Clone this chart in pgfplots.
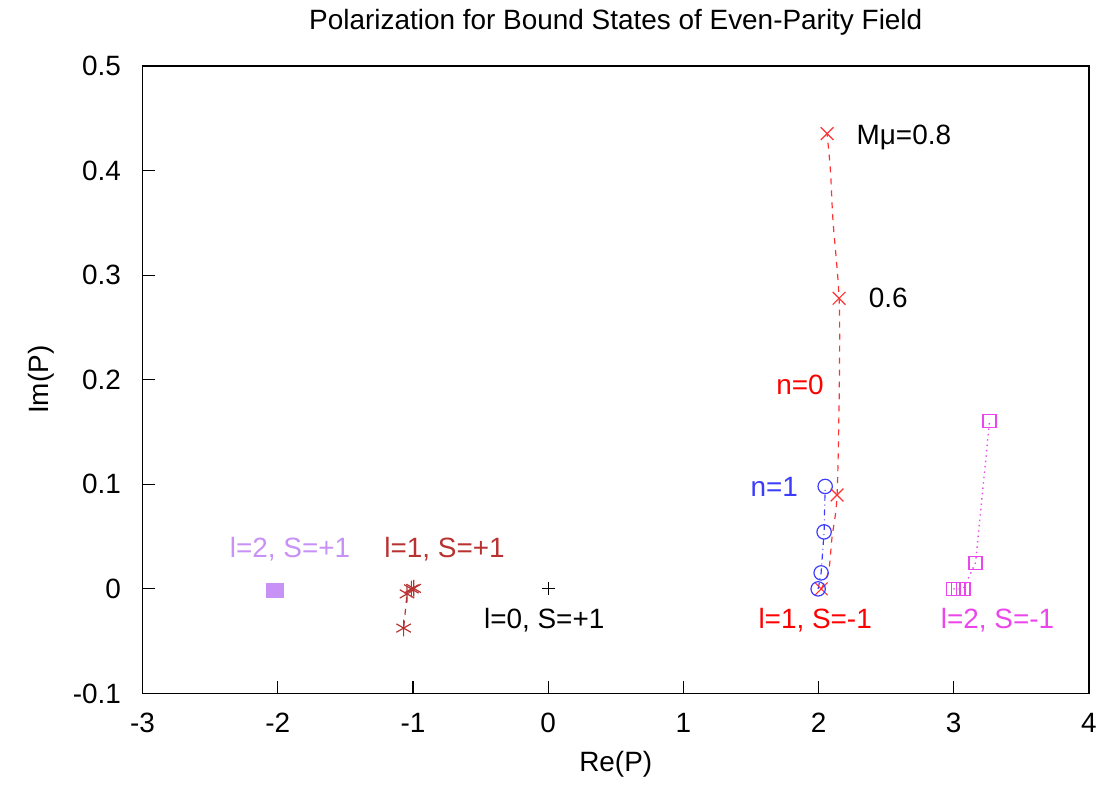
\documentclass[border=0pt]{standalone}
\usepackage{fontspec}
\setmainfont{Liberation Sans}
\usepackage{pgfplots}
\pgfplotsset{compat=1.18}
\definecolor{cred}{RGB}{255,50,50}
\definecolor{cblue}{RGB}{60,60,255}
\definecolor{cmag}{RGB}{235,70,235}
\definecolor{cpurp}{RGB}{200,145,245}
\definecolor{cbrown}{RGB}{185,50,50}
\begin{document}
\fontsize{14pt}{16pt}\selectfont
\begin{tikzpicture}
\begin{axis}[
  scale only axis,
  width=474.5pt, height=314.5pt,
  xmin=-3, xmax=4, ymin=-0.1, ymax=0.5,
  xtick={-3,-2,-1,0,1,2,3,4},
  ytick={-0.1,0,0.1,0.2,0.3,0.4,0.5},
  yticklabel style={/pgf/number format/fixed, /pgf/number format/precision=1, xshift=-6pt},
  xticklabel style={yshift=-5pt},
  /pgf/number format/assume math mode=true,
  tick align=inside,
  major tick length=6pt,
  xtick pos=bottom, ytick pos=left,
  axis line style={line width=0.8pt},
  tick style={line width=0.6pt, black},
  every tick label/.append style={font=\fontsize{14pt}{16pt}\selectfont},
  clip=false,
]
% n=0 curve
\addplot[cred, dashed, smooth, line width=0.6pt, tension=0.5] coordinates {
 (2.020,0.000) (2.075,0.0175) (2.100,0.0497) (2.137,0.0898) (2.154,0.199) (2.152,0.278) (2.107,0.352) (2.088,0.400) (2.063,0.4355)};
\addplot[cred, only marks, mark=x, mark size=4.5pt, line width=0.6pt] coordinates {
 (2.020,0.000) (2.137,0.0898) (2.152,0.278) (2.063,0.4355)};
% n=1
\addplot[cblue, dash dot, line width=0.6pt, mark=o, mark size=3.6pt, mark options={solid}] coordinates {
 (1.997,0.000) (2.019,0.0153) (2.041,0.0545) (2.049,0.098)};
% l=2, S=-1
\addplot[cmag, dotted, line width=0.7pt, mark=square, mark size=3.3pt, mark options={solid}] coordinates {
 (2.997,0.000) (3.034,0.000) (3.071,0.000) (3.161,0.0248) (3.265,0.1605)};
% l=1, S=+1
\addplot[cbrown, dashed, line width=0.6pt, mark=asterisk, mark size=4.2pt, mark options={solid}] coordinates {
 (-0.995,0.0005) (-1.012,0.000) (-1.044,-0.0048) (-1.069,-0.0375)};
% l=2, S=+1
\addplot[cpurp, only marks, mark=square*, mark size=3.5pt] coordinates {
 (-2.030,-0.0015) (-2.020,-0.0015) (-2.010,-0.0015)};
% l=0, S=+1
\addplot[black, only marks, mark=+, mark size=3.2pt, line width=0.5pt] coordinates {(0,0)};

\node[anchor=west] at (axis cs:2.21,0.4317) {Mμ=0.8};
\node[anchor=west] at (axis cs:2.30,0.278) {0.6};
\node[anchor=east, text=red] at (axis cs:2.11,0.195) {n=0};
\node[anchor=east, text=cblue] at (axis cs:1.92,0.098) {n=1};
\node[text=cpurp] at (axis cs:-1.909,0.0382) {l=2, S=+1};
\node[text=cbrown] at (axis cs:-0.766,0.0382) {l=1, S=+1};
\node[text=black] at (axis cs:-0.029,-0.0296) {l=0, S=+1};
\node[text=red] at (axis cs:1.975,-0.0296) {l=1, S=-1};
\node[text=cmag] at (axis cs:3.324,-0.0296) {l=2, S=-1};

\node at ([yshift=22pt]rel axis cs:0.5,1) {Polarization for Bound States of Even-Parity Field};
\node at ([yshift=-35.5pt]rel axis cs:0.5,0) {Re(P)};
\node[rotate=90] at ([xshift=-51pt]rel axis cs:0,0.5) {Im(P)};
\end{axis}
\path[use as bounding box] ([xshift=-71.5pt,yshift=-44.5pt]current axis.south west) rectangle ([xshift=7pt,yshift=31pt]current axis.north east);
\end{tikzpicture}
\end{document}
